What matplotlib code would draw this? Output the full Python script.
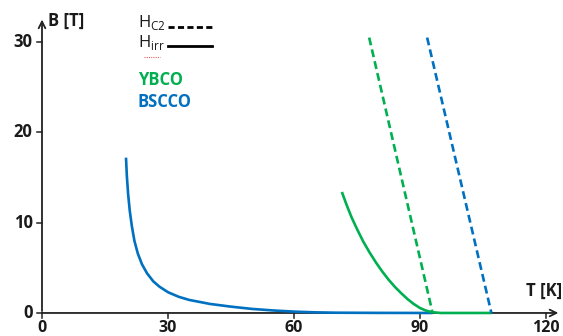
import matplotlib
matplotlib.use("Agg")
import matplotlib.pyplot as plt

plt.rcParams['font.family'] = ['Open Sans', 'DejaVu Sans']

GREEN = "#00B050"
BLUE = "#0070C0"

# BSCCO irreversibility line (T [K], B [T])
bscco_irr_T = [20, 20.2, 20.5, 20.9, 21.4, 22.0, 22.8, 23.8, 25, 26.5, 28, 30, 32.5, 35, 40, 45, 50, 55, 60, 65, 70, 80, 93]
bscco_irr_B = [17.2, 15.2, 13.2, 11.3, 9.6, 8.0, 6.6, 5.4, 4.4, 3.5, 2.9, 2.3, 1.8, 1.45, 1.0, 0.7, 0.45, 0.28, 0.15, 0.07, 0.03, 0.01, 0.0]

# YBCO irreversibility line
ybco_irr_T = [71.4, 72.5, 73.7, 75, 76.5, 78, 79.5, 81, 82.5, 84, 85.5, 87, 88.5, 90, 91.5, 93, 95, 107]
ybco_irr_B = [13.4, 12.0, 10.6, 9.3, 7.9, 6.7, 5.6, 4.6, 3.7, 2.9, 2.2, 1.55, 1.0, 0.55, 0.25, 0.08, 0.0, 0.0]

# Upper critical fields (dashed)
ybco_hc2_T = [77.9, 93]
ybco_hc2_B = [30.5, 0]
bscco_hc2_T = [91.7, 107]
bscco_hc2_B = [30.5, 0]

xticks = [0, 30, 60, 90, 120]
yticks = [0, 10, 20, 30]

fig = plt.figure(figsize=(5.63, 3.36), dpi=100)
ax = fig.add_axes([0, 0, 1, 1])
ax.set_xlim(-10, 124.05)
ax.set_ylim(-2.55, 34.66)

ax.plot(bscco_irr_T, bscco_irr_B, color=BLUE, lw=1.9, solid_capstyle='butt', solid_joinstyle='round', zorder=3)
ax.plot(ybco_irr_T, ybco_irr_B, color=GREEN, lw=1.9, solid_capstyle='butt', solid_joinstyle='round', zorder=4)
ax.plot(ybco_hc2_T, ybco_hc2_B, color=GREEN, lw=1.9, dashes=(3, 1.6), zorder=4)
ax.plot(bscco_hc2_T, bscco_hc2_B, color=BLUE, lw=1.9, dashes=(3, 1.6), zorder=4)

for s in ax.spines.values():
    s.set_visible(False)

# axes with arrows
ax.annotate('', xy=(123.6, 0), xytext=(-0.7, 0),
            arrowprops=dict(arrowstyle='->', lw=1.3, color='#222222', mutation_scale=12), zorder=2)
ax.annotate('', xy=(0, 32.8), xytext=(0, -0.1),
            arrowprops=dict(arrowstyle='->', lw=1.3, color='#222222', mutation_scale=12), zorder=2)

# ticks
for t in xticks:
    ax.plot([t, t], [0, -0.6], color='#222222', lw=1.1, zorder=2)
    ax.text(t, -2.5, str(t), ha='center', va='bottom', fontsize=11.5, fontweight='bold', color='#1a1a1a')
for t in yticks:
    ax.plot([-1.3, 0], [t, t], color='#222222', lw=1.1, zorder=2)
    ax.text(-2.2, t, str(t), ha='right', va='center', fontsize=12, fontweight='bold', color='#1a1a1a')
ax.set_xticks([])
ax.set_yticks([])

ax.text(1.5, 32.3, 'B [T]', ha='left', va='center', fontsize=12, fontweight='bold', color='#1a1a1a')
ax.text(123.8, 1.5, 'T [K]', ha='right', va='bottom', fontsize=12, fontweight='bold', color='#1a1a1a')

# legend
ax.text(22.8, 32.2, r'H$_{\mathregular{C2}}$', ha='left', va='center', fontsize=12, color='#1a1a1a')
ax.plot([30.0, 40.5], [31.7, 31.7], color='black', lw=2.0, dashes=(2.2, 1.2))
ax.text(22.8, 29.9, r'H$_{\mathregular{irr}}$', ha='left', va='center', fontsize=12, color='#1a1a1a')
ax.plot([30.0, 40.5], [29.6, 29.6], color='black', lw=2.0)
ax.plot([24.3, 28.0], [28.3, 28.3], color='#e06060', lw=0.8, ls=(0, (1, 1)))

ax.text(22.8, 25.8, 'YBCO', ha='left', va='center', fontsize=12, fontweight='bold', color=GREEN)
ax.text(22.8, 23.4, 'BSCCO', ha='left', va='center', fontsize=12, fontweight='bold', color=BLUE)

fig.savefig('out.png', dpi=100)
